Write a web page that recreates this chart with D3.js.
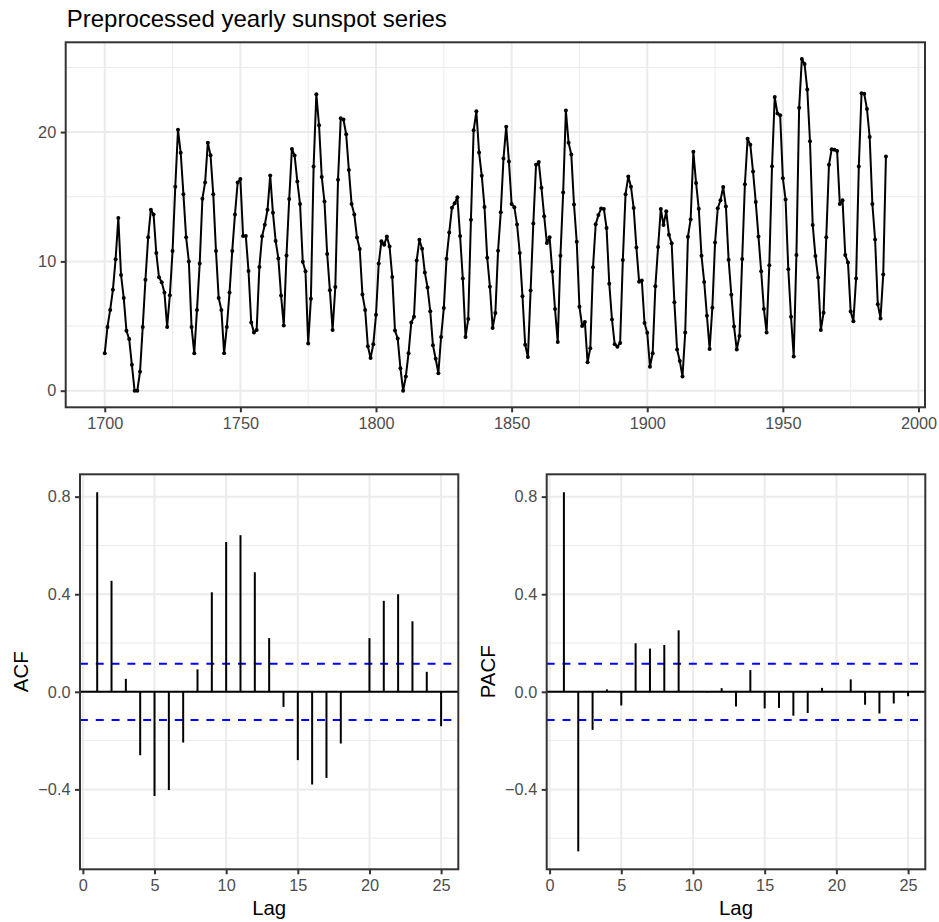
<!DOCTYPE html>
<html lang="en">
<head>
<meta charset="utf-8">
<title>Preprocessed yearly sunspot series</title>
<script src="https://cdn.jsdelivr.net/npm/d3@7"></script>
<style>
  body { margin: 0; background: #fff; }
  svg { display: block; font-family: 'Liberation Sans', Arial, sans-serif; }
</style>
</head>
<body>
<div id="chart"></div>
<script>

/* Data */
/* ==== */

var startYear = 1700;

// yearly sunspot series after the square-root style preprocessing, 1700-1988
var sunspot = [
  2.90, 4.93, 6.25, 7.80, 10.17, 13.36, 8.95, 7.17, 4.63, 4.00,
  2.00, 0.00, 0.00, 1.46, 4.93, 8.58, 11.86, 14.00, 13.62, 10.65,
  8.77, 8.39, 7.59, 4.93, 7.38, 10.81, 15.78, 20.18, 18.40, 15.20,
  11.86, 10.00, 4.93, 2.90, 6.25, 9.83, 14.85, 16.11, 19.17, 18.20,
  15.20, 10.81, 7.17, 6.25, 2.90, 4.93, 7.59, 10.81, 13.62, 16.10,
  16.37, 11.96, 11.97, 9.26, 5.27, 4.51, 4.69, 9.56, 11.94, 12.83,
  13.99, 16.64, 13.77, 11.58, 10.23, 7.36, 5.04, 10.46, 14.83, 18.70,
  18.18, 16.18, 14.43, 9.97, 9.24, 3.66, 7.12, 17.34, 22.93, 20.53,
  16.53, 14.63, 10.57, 7.76, 4.69, 8.02, 16.32, 21.07, 20.97, 19.83,
  17.07, 14.44, 13.62, 11.84, 10.96, 7.44, 6.25, 3.44, 2.52, 3.59,
  5.87, 9.83, 11.56, 11.28, 11.93, 11.15, 8.79, 4.66, 4.03, 1.74,
  0.00, 1.10, 2.90, 5.27, 5.72, 10.07, 11.68, 10.98, 9.15, 7.98,
  6.15, 3.51, 2.47, 1.35, 4.16, 6.39, 10.21, 12.23, 14.15, 14.49,
  14.96, 11.97, 8.68, 4.16, 5.54, 13.22, 20.14, 21.61, 18.42, 16.62,
  14.20, 10.28, 8.04, 4.84, 6.00, 10.82, 13.81, 17.95, 20.42, 17.73,
  14.44, 14.19, 12.85, 10.65, 7.30, 3.55, 2.60, 7.74, 12.94, 17.47,
  17.68, 15.69, 13.50, 11.42, 11.86, 9.22, 6.32, 3.76, 10.43, 15.32,
  21.66, 19.18, 18.26, 14.40, 11.52, 6.49, 5.01, 5.32, 2.20, 3.29,
  9.54, 12.87, 13.58, 14.09, 14.06, 12.59, 8.28, 5.51, 3.59, 3.40,
  3.69, 10.10, 15.20, 16.56, 15.78, 14.12, 11.08, 8.43, 8.53, 5.24,
  4.48, 1.85, 2.90, 8.08, 11.11, 14.06, 12.81, 13.87, 12.07, 11.40,
  6.85, 3.18, 2.29, 1.10, 4.51, 11.91, 13.24, 18.48, 16.07, 14.07,
  10.43, 8.41, 5.80, 3.22, 6.41, 11.46, 14.11, 14.73, 15.75, 14.24,
  10.12, 7.42, 4.96, 3.18, 4.23, 10.18, 15.97, 19.48, 19.03, 16.95,
  14.59, 11.93, 9.24, 6.32, 4.51, 9.70, 17.35, 22.71, 21.44, 21.30,
  16.43, 14.78, 9.40, 5.72, 2.65, 10.49, 21.89, 25.66, 25.26, 23.30,
  19.29, 12.82, 10.41, 8.75, 4.69, 6.02, 11.86, 17.47, 18.68, 18.64,
  18.54, 14.44, 14.72, 10.49, 9.92, 6.12, 5.38, 8.68, 17.34, 23.01,
  22.96, 21.79, 19.62, 14.44, 11.70, 6.69, 5.59, 8.99, 18.12
];

var lags = d3.range(1, 26);

var acfValues = [
  0.818, 0.455, 0.053, -0.260, -0.427, -0.403, -0.208, 0.092, 0.408, 0.614,
  0.642, 0.490, 0.220, -0.062, -0.280, -0.380, -0.353, -0.212, 0.003, 0.220,
  0.373, 0.400, 0.289, 0.082, -0.141
];

var pacfValues = [
  0.818, -0.654, -0.156, 0.010, -0.056, 0.199, 0.177, 0.192, 0.252, 0.004,
  -0.003, 0.015, -0.060, 0.089, -0.068, -0.066, -0.098, -0.087, 0.016, 0.000,
  0.051, -0.053, -0.089, -0.048, -0.018
];

var ciBound = 0.1153;

// tick labels
var yearTicks = [1700, 1750, 1800, 1850, 1900, 1950, 2000];
var yearMinor = [1725, 1775, 1825, 1875, 1925, 1975];
var spotTicks = [0, 10, 20];
var spotMinor = [5, 15, 25];
var lagTicks = [0, 5, 10, 15, 20, 25];
var corrTicks = [-0.4, 0.0, 0.4, 0.8];
var corrMinor = [-0.6, -0.2, 0.2, 0.6];


/* Layout */
/* ====== */

var width = 939,
    height = 922,
    tickFont = 16.3,
    labelFont = 20.4,
    titleFont = 24;

var topBox  = { x0: 65.7, x1: 925,   y0: 42.3,  y1: 407.3 },
    acfBox  = { x0: 80,   x1: 458.3, y0: 474.3, y1: 869.3 },
    pacfBox = { x0: 546.7, x1: 925.3, y0: 474.3, y1: 869.3 };

var svg = d3.select('#chart').append('svg')
    .attr('width', width)
    .attr('height', height);

svg.append('rect')
    .attr('width', width)
    .attr('height', height)
    .attr('fill', '#fff');

// ggplot-style 5% expansion
function expand(ext) {
  var pad = (ext[1] - ext[0]) * 0.05;
  return [ext[0] - pad, ext[1] + pad];
}


/* Panel helper */
/* ============ */

function drawPanel(box, x, y, opts) {

  var g = svg.append('g');

  g.append('rect')
      .attr('x', box.x0).attr('y', box.y0)
      .attr('width', box.x1 - box.x0).attr('height', box.y1 - box.y0)
      .attr('fill', '#fff');

  // minor grid
  (opts.xMinor || []).forEach(function(v) {
    g.append('line')
        .attr('x1', x(v)).attr('x2', x(v))
        .attr('y1', box.y0).attr('y2', box.y1)
        .attr('stroke', '#EBEBEB').attr('stroke-width', 1);
  });
  (opts.yMinor || []).forEach(function(v) {
    g.append('line')
        .attr('x1', box.x0).attr('x2', box.x1)
        .attr('y1', y(v)).attr('y2', y(v))
        .attr('stroke', '#EBEBEB').attr('stroke-width', 1);
  });

  // major grid
  opts.xTicks.forEach(function(v) {
    g.append('line')
        .attr('x1', x(v)).attr('x2', x(v))
        .attr('y1', box.y0).attr('y2', box.y1)
        .attr('stroke', '#EBEBEB').attr('stroke-width', 2);
  });
  opts.yTicks.forEach(function(v) {
    g.append('line')
        .attr('x1', box.x0).attr('x2', box.x1)
        .attr('y1', y(v)).attr('y2', y(v))
        .attr('stroke', '#EBEBEB').attr('stroke-width', 2);
  });

  // axes
  var xAxis = svg.append('g')
      .attr('transform', 'translate(0,' + box.y1 + ')')
      .call(d3.axisBottom(x).tickValues(opts.xTicks).tickSize(5).tickPadding(5.5)
        .tickFormat(opts.xFormat));

  var yAxis = svg.append('g')
      .attr('transform', 'translate(' + box.x0 + ',0)')
      .call(d3.axisLeft(y).tickValues(opts.yTicks).tickSize(5).tickPadding(4.5)
        .tickFormat(opts.yFormat));

  [xAxis, yAxis].forEach(function(a) {
    a.select('.domain').remove();
    a.selectAll('line').attr('stroke', '#333').attr('stroke-width', 2);
    a.selectAll('text')
        .attr('fill', '#4D4D4D')
        .attr('font-size', tickFont)
        .attr('font-family', "'Liberation Sans', Arial, sans-serif");
  });

  return g;
}

function drawBorder(box) {
  svg.append('rect')
      .attr('x', box.x0).attr('y', box.y0)
      .attr('width', box.x1 - box.x0).attr('height', box.y1 - box.y0)
      .attr('fill', 'none')
      .attr('stroke', '#333')
      .attr('stroke-width', 2);
}


/* Top: time series */
/* ================ */

var series = sunspot.map(function(v, i) { return { year: startYear + i, value: v }; });

var xYear = d3.scaleLinear()
    .domain(expand(d3.extent(series, function(d) { return d.year; })))
    .range([topBox.x0, topBox.x1]);

var ySpot = d3.scaleLinear()
    .domain(expand(d3.extent(series, function(d) { return d.value; })))
    .range([topBox.y1, topBox.y0]);

var topG = drawPanel(topBox, xYear, ySpot, {
  xTicks: yearTicks, xMinor: yearMinor,
  yTicks: spotTicks, yMinor: spotMinor,
  xFormat: d3.format('d'), yFormat: d3.format('d')
});

topG.append('path')
    .datum(series)
    .attr('fill', 'none')
    .attr('stroke', '#000')
    .attr('stroke-width', 2)
    .attr('stroke-linejoin', 'round')
    .attr('d', d3.line()
      .x(function(d) { return xYear(d.year); })
      .y(function(d) { return ySpot(d.value); }));

topG.selectAll('circle')
    .data(series)
    .enter().append('circle')
    .attr('cx', function(d) { return xYear(d.year); })
    .attr('cy', function(d) { return ySpot(d.value); })
    .attr('r', 2)
    .attr('fill', '#000');

drawBorder(topBox);

svg.append('text')
    .attr('x', topBox.x0 + 1)
    .attr('y', 27)
    .attr('font-size', titleFont)
    .attr('fill', '#000')
    .text('Preprocessed yearly sunspot series');


/* Bottom: ACF and PACF */
/* ==================== */

var corrExtent = d3.extent(acfValues.concat(pacfValues, [ciBound, -ciBound]));

function drawCorr(box, values, label, labelX) {

  var x = d3.scaleLinear()
      .domain(expand(d3.extent(lags)))
      .range([box.x0, box.x1]);

  var y = d3.scaleLinear()
      .domain(expand(corrExtent))
      .range([box.y1, box.y0]);

  var g = drawPanel(box, x, y, {
    xTicks: lagTicks, yTicks: corrTicks, yMinor: corrMinor,
    xFormat: d3.format('d'),
    yFormat: function(d) { return d3.format('.1f')(d).replace('-', '\u2212'); }
  });

  // zero line
  g.append('line')
      .attr('x1', box.x0).attr('x2', box.x1)
      .attr('y1', y(0)).attr('y2', y(0))
      .attr('stroke', '#000').attr('stroke-width', 2);

  // confidence bounds
  [ciBound, -ciBound].forEach(function(c) {
    g.append('line')
        .attr('x1', box.x0).attr('x2', box.x1)
        .attr('y1', y(c)).attr('y2', y(c))
        .attr('stroke', '#0000FF').attr('stroke-width', 2)
        .attr('stroke-dasharray', '7.9,7.9');
  });

  // spikes
  g.selectAll('.spike')
      .data(lags)
      .enter().append('line')
      .attr('class', 'spike')
      .attr('x1', function(d) { return x(d); })
      .attr('x2', function(d) { return x(d); })
      .attr('y1', y(0))
      .attr('y2', function(d, i) { return y(values[i]); })
      .attr('stroke', '#000')
      .attr('stroke-width', 2);

  drawBorder(box);

  // axis titles
  svg.append('text')
      .attr('x', (box.x0 + box.x1) / 2)
      .attr('y', 915)
      .attr('text-anchor', 'middle')
      .attr('font-size', labelFont)
      .attr('fill', '#000')
      .text('Lag');

  svg.append('text')
      .attr('transform', 'translate(' + labelX + ',' + ((box.y0 + box.y1) / 2) + ') rotate(-90)')
      .attr('text-anchor', 'middle')
      .attr('font-size', labelFont)
      .attr('fill', '#000')
      .text(label);
}

drawCorr(acfBox, acfValues, 'ACF', 28.3);
drawCorr(pacfBox, pacfValues, 'PACF', 495);

</script>
</body>
</html>
